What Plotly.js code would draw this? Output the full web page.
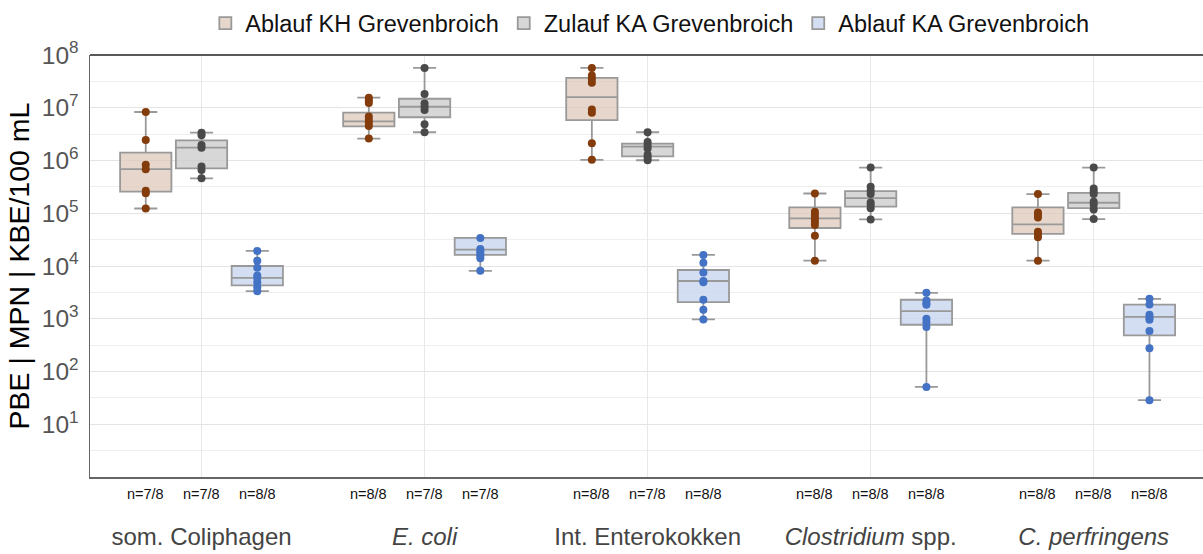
<!DOCTYPE html>
<html>
<head>
<meta charset="utf-8">
<script src="https://cdn.plot.ly/plotly-3.0.1.min.js"></script>
<style>html,body{margin:0;padding:0;background:#fff;}#chart{width:1203px;height:554px;}</style>
</head>
<body>
<div id="chart"></div>
<script>
// ---------- DATA ----------
const categories = ['som. Coliphagen', '<i>E. coli</i>', 'Int. Enterokokken', '<i>Clostridium</i> spp.', '<i>C. perfringens</i>'];
const seriesNames = ['Ablauf KH Grevenbroich', 'Zulauf KA Grevenbroich', 'Ablauf KA Grevenbroich'];

const nKH = ['n=7/8', 'n=8/8', 'n=8/8', 'n=8/8', 'n=8/8'];
const nZulauf = ['n=7/8', 'n=7/8', 'n=7/8', 'n=8/8', 'n=8/8'];
const nKA = ['n=8/8', 'n=7/8', 'n=8/8', 'n=8/8', 'n=8/8'];

// individual samples per category
const pointsKH = [
  [8.3e6, 2.45e6, 8.3e5, 6.8e5, 2.66e5, 2.4e5, 1.23e5],
  [1.55e7, 1.38e7, 1.23e7, 6.8e6, 5.85e6, 5.2e6, 4.5e6, 2.6e6],
  [5.7e7, 4.1e7, 3.5e7, 2.97e7, 9.3e6, 8.05e6, 2.12e6, 1.03e6],
  [2.37e5, 1.07e5, 9.25e4, 8.0e4, 6.9e4, 5.97e4, 3.76e4, 1.26e4],
  [2.31e5, 1.035e5, 9.4e4, 8.3e4, 4.47e4, 4.05e4, 3.5e4, 1.26e4]
];
const pointsZulauf = [
  [3.37e6, 3.0e6, 1.97e6, 1.75e6, 7.7e5, 6.6e5, 4.6e5],
  [5.7e7, 1.82e7, 1.21e7, 1.045e7, 9.05e6, 4.85e6, 3.43e6],
  [3.43e6, 2.25e6, 1.95e6, 1.68e6, 1.29e6, 1.135e6, 1.01e6],
  [7.35e5, 3.17e5, 2.66e5, 2.31e5, 1.6e5, 1.43e5, 1.25e5, 7.65e4],
  [7.35e5, 2.94e5, 2.58e5, 2.31e5, 1.65e5, 1.45e5, 1.18e5, 7.75e4]
];
const pointsKA = [
  [1.93e4, 1.26e4, 9.3e3, 6.6e3, 5.9e3, 4.9e3, 3.96e3, 3.33e3],
  [3.4e4, 2.1e4, 1.9e4, 1.71e4, 1.55e4, 1.4e4, 8.1e3],
  [1.62e4, 1.15e4, 7.5e3, 5.2e3, 4.9e3, 2.29e3, 1.48e3, 970],
  [3.1e3, 2.22e3, 1.97e3, 1.84e3, 1.0e3, 863, 695, 51],
  [2.39e3, 1.86e3, 1.19e3, 1.045e3, 957, 583, 275, 28.6]
];

// box statistics (per category)
const kh_lower = [1.23e5, 2.6e6, 1.03e6, 1.26e4, 1.26e4];
const kh_q1 = [2.57e5, 4.45e6, 5.85e6, 5.25e4, 4.05e4];
const kh_median = [6.84e5, 5.53e6, 1.59e7, 8.0e4, 6.15e4];
const kh_q3 = [1.41e6, 8.05e6, 3.69e7, 1.29e5, 1.29e5];
const kh_upper = [8.3e6, 1.55e7, 5.7e7, 2.37e5, 2.31e5];

const zu_lower = [4.6e5, 3.43e6, 1.01e6, 7.65e4, 7.75e4];
const zu_q1 = [7.1e5, 6.6e6, 1.2e6, 1.33e5, 1.25e5];
const zu_median = [1.75e6, 1.045e7, 1.83e6, 1.94e5, 1.58e5];
const zu_q3 = [2.4e6, 1.48e7, 2.09e6, 2.62e5, 2.44e5];
const zu_upper = [3.37e6, 5.7e7, 3.43e6, 7.35e5, 7.35e5];

const ka_lower = [3.33e3, 8.1e3, 970, 51, 28.6];
const ka_q1 = [4.3e3, 1.62e4, 2.06e3, 769, 483];
const ka_median = [5.96e3, 2.04e4, 5.2e3, 1.39e3, 1.09e3];
const ka_q3 = [1.0e4, 3.4e4, 8.4e3, 2.29e3, 1.86e3];
const ka_upper = [1.93e4, 3.4e4, 1.62e4, 3.1e3, 2.39e3];

const yTickVals = [1e1, 1e2, 1e3, 1e4, 1e5, 1e6, 1e7, 1e8];
const yTickText = ['10<sup>1</sup>', '10<sup>2</sup>', '10<sup>3</sup>', '10<sup>4</sup>', '10<sup>5</sup>', '10<sup>6</sup>', '10<sup>7</sup>', '10<sup>8</sup>'];
const yMinorVals = [10**0.5, 10**1.5, 10**2.5, 10**3.5, 10**4.5, 10**5.5, 10**6.5, 10**7.5];

// ---------- STYLE ----------
const offsets = [-0.25, 0, 0.25];
const fills = ['rgba(222,200,185,0.75)', 'rgba(205,205,205,0.8)', 'rgba(200,214,240,0.8)'];
const markerColors = ['#843c0c', '#4a4a4a', '#4472c4'];
const FONT = 'Liberation Sans, Arial, sans-serif';

const catIdx = categories.map((c, i) => i);
const boxStats = [
  [kh_lower, kh_q1, kh_median, kh_q3, kh_upper],
  [zu_lower, zu_q1, zu_median, zu_q3, zu_upper],
  [ka_lower, ka_q1, ka_median, ka_q3, ka_upper]
];
const allPoints = [pointsKH, pointsZulauf, pointsKA];
const nLabels = [nKH, nZulauf, nKA];

const traces = [];
seriesNames.forEach((name, s) => {
  const st = boxStats[s];
  traces.push({
    type: 'box',
    name: name,
    x: catIdx.map(i => i + offsets[s]),
    lowerfence: st[0], q1: st[1], median: st[2], q3: st[3], upperfence: st[4],
    width: 0.23,
    whiskerwidth: 0.45,
    fillcolor: fills[s],
    line: {color: '#999999', width: 1.8},
    boxpoints: false,
    hoverinfo: 'skip'
  });
});
seriesNames.forEach((name, s) => {
  const xs = [], ys = [];
  allPoints[s].forEach((arr, i) => arr.forEach(v => { xs.push(i + offsets[s]); ys.push(v); }));
  traces.push({
    type: 'scatter', mode: 'markers', x: xs, y: ys, showlegend: false,
    marker: {color: markerColors[s], size: 8}, hoverinfo: 'skip'
  });
});

// n-labels as annotations under each box
const annotations = [];
catIdx.forEach(i => offsets.forEach((o, s) => {
  annotations.push({
    xref: 'x', yref: 'paper', x: i + o, y: -0.04, yanchor: 'middle', xanchor: 'center',
    text: nLabels[s][i], showarrow: false,
    font: {size: 14.5, color: '#111', family: FONT}
  });
}));

const xr = [-0.5, 4.49];
const layout = {
  width: 1203, height: 554,
  margin: {l: 90, r: 0, t: 55, b: 77},
  paper_bgcolor: '#fff', plot_bgcolor: '#fff',
  font: {family: FONT, color: '#000'},
  boxmode: 'overlay',
  showlegend: true,
  legend: {orientation: 'h', x: 0.503, xanchor: 'center', y: 1.075, yanchor: 'middle',
           font: {size: 23.5, color: '#111', family: FONT}, itemwidth: 30, tracegroupgap: 0},
  xaxis: {
    range: xr, tickvals: catIdx, ticktext: categories,
    showgrid: true, gridcolor: '#e8e8e8', gridwidth: 1,
    zeroline: false, showline: true, linecolor: '#666', linewidth: 1.5,
    ticks: '', ticklabelstandoff: 38,
    tickfont: {size: 24, color: '#444', family: FONT}
  },
  yaxis: {
    type: 'log', range: [0, 8],
    tickvals: yTickVals, ticktext: yTickText,
    showgrid: true, gridcolor: '#e4e4e4', gridwidth: 1,
    minor: {tickvals: yMinorVals, showgrid: true, gridcolor: '#efefef', ticks: ''},
    zeroline: false, showline: true, linecolor: '#666', linewidth: 1.5,
    ticks: '', ticklabelstandoff: 5,
    tickfont: {size: 24.5, color: '#555', family: FONT},
    title: {text: 'PBE | MPN | KBE/100 mL', font: {size: 28.5, color: '#000', family: FONT}, standoff: 4}
  },
  annotations: annotations,
  shapes: [{type: 'line', xref: 'paper', yref: 'paper', x0: 0, x1: 1, y0: 1, y1: 1,
            line: {color: '#222', width: 1.5}}]
};

Plotly.newPlot('chart', traces, layout, {displayModeBar: false, staticPlot: true});
</script>
</body>
</html>
